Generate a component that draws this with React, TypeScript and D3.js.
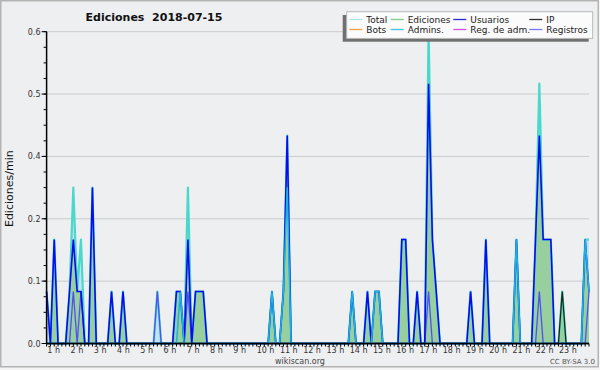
import React from 'react';
import * as d3 from 'd3';

// ---- data (10-minute bins, edits per minute) ----
const BIN_COUNT = 143;
const hourLabels = ['1 h','2 h','3 h','4 h','5 h','6 h','7 h','8 h','9 h','10 h','11 h','12 h','13 h','14 h','15 h','16 h','17 h','18 h','19 h','20 h','21 h','22 h','23 h'];
const yTicks = [0, 0.12, 0.24, 0.36, 0.48, 0.6];

const totalPts: [number, number][] = [[0,0.1],[2,0.2],[6,0.1],[7,0.3],[8,0.1],[9,0.2],[12,0.3],[17,0.1],[20,0.1],[29,0.1],[34,0.1],[35,0.1],[37,0.3],[39,0.1],[40,0.1],[41,0.1],[59,0.1],[62,0.1],[63,0.4],[80,0.1],[84,0.1],[86,0.1],[87,0.1],[93,0.2],[94,0.2],[97,0.1],[100,0.6],[101,0.2],[102,0.1],[111,0.1],[115,0.2],[123,0.2],[128,0.2],[129,0.5],[130,0.2],[131,0.2],[132,0.2],[135,0.1],[141,0.2],[142,0.2]];
const edicionesPts: [number, number][] = [[2,0.2],[6,0.1],[7,0.2],[8,0.1],[9,0.1],[12,0.3],[17,0.1],[20,0.1],[34,0.1],[35,0.1],[37,0.2],[39,0.1],[40,0.1],[41,0.1],[59,0.1],[62,0.1],[63,0.4],[80,0.1],[84,0.1],[86,0.1],[87,0.1],[93,0.2],[94,0.2],[97,0.1],[100,0.5],[101,0.2],[102,0.1],[111,0.1],[115,0.2],[123,0.2],[128,0.2],[129,0.4],[130,0.2],[131,0.2],[132,0.2],[135,0.1],[141,0.2],[142,0.1]];
const usuariosPts: [number, number][] = [[0,0.1],[2,0.2],[6,0.1],[7,0.2],[8,0.1],[9,0.1],[12,0.3],[17,0.1],[20,0.1],[34,0.1],[35,0.1],[37,0.2],[39,0.1],[40,0.1],[41,0.1],[59,0.1],[62,0.1],[63,0.4],[80,0.1],[84,0.1],[86,0.1],[87,0.1],[93,0.2],[94,0.2],[97,0.1],[100,0.5],[101,0.2],[102,0.1],[111,0.1],[115,0.2],[123,0.2],[128,0.2],[129,0.4],[130,0.2],[131,0.2],[132,0.2],[141,0.2],[142,0.1]];
const ipPts: [number, number][] = [[135,0.1]];
const adminsPts: [number, number][] = [[35,0.1],[59,0.1],[62,0.1],[63,0.3],[80,0.1],[86,0.1],[87,0.1],[123,0.2],[141,0.2],[142,0.1]];
const registrosPts: [number, number][] = [[7,0.1],[9,0.1],[29,0.1],[37,0.1],[100,0.1],[129,0.1],[142,0.1]];

const legendItems = [
  { name: 'Total', color: '#a8e6e6' },
  { name: 'Ediciones', color: '#88cc88' },
  { name: 'Usuarios', color: '#2a2ad8' },
  { name: 'IP', color: '#333333' },
  { name: 'Bots', color: '#f5a040' },
  { name: 'Admins.', color: '#40c4e0' },
  { name: 'Reg. de adm.', color: '#d050e0' },
  { name: 'Registros', color: '#7878f0' },
];

function dense(pts: [number, number][]): number[] {
  const a = new Array(BIN_COUNT).fill(0);
  pts.forEach(([i, v]) => { a[i] = v; });
  return a;
}

const W = 600, H = 370;
const M = { left: 46.6, right: 589, top: 31.7, bottom: 343.5 };
const FONT = '"DejaVu Sans", Verdana, sans-serif';

export default function App() {
  const x = d3.scaleLinear().domain([0, BIN_COUNT - 1]).range([M.left, M.right]);
  const y = d3.scaleLinear().domain([0, 0.6]).range([M.bottom, M.top]);
  const labelX = d3.scaleLinear().domain([1, 23]).range([47.3, 559]);

  const total = dense(totalPts), ed = dense(edicionesPts), us = dense(usuariosPts),
    ip = dense(ipPts), adm = dense(adminsPts), reg = dense(registrosPts);

  const line = d3.line<number>().x((_, i) => x(i)).y(d => y(d));
  const area = d3.area<number>().x((_, i) => x(i)).y0(y(0)).y1(d => y(d));
  const fmt = d3.format('.1f');
  const minorY = d3.range(0, 0.6001, 0.03);
  const xTicks = d3.range(0, BIN_COUNT);

  // legend geometry
  const lg = { x: 346.7, y: 11.7, w: 246, h: 26.7 };
  const colX = [349.3, 390.7, 453.3, 529.3];
  const rowY = [19.5, 29.5];

  return (
    <>
      <style>{'body{margin:0}'}</style>
      <svg width={W} height={H} style={{ display: 'block' }} fontFamily={FONT}>
        <rect x={0} y={0} width={W} height={H} fill="#f4f4f4" />
        <rect x={0.75} y={0.75} width={597.5} height={366} fill="#eeeff1" stroke="#b4b4b4" strokeWidth={1.5} />
        <text x={154} y={20.5} textAnchor="middle" fontWeight="bold" fontSize={11} fill="#111" style={{ whiteSpace: 'pre' }}>{'Ediciones  2018-07-15'}</text>

        {/* grid */}
        {yTicks.filter(t => t > 0).map(t => (
          <line key={'g' + t} x1={M.left} x2={M.right} y1={y(t)} y2={y(t)} stroke="#cbcbcb" strokeWidth={1} />
        ))}

        {/* series */}
        <path d={area(total) || ''} fill="#c4e0f2" />
        <path d={area(ed) || ''} fill="#97cf9f" />
        <path d={line(total) || ''} fill="none" stroke="#48d8cc" strokeWidth={2.2} strokeLinejoin="round" />
        <path d={line(reg) || ''} fill="none" stroke="#5050f2" strokeWidth={1.3} />
        <path d={line(us) || ''} fill="none" stroke="#0a0aee" strokeWidth={1.6} />
        <path d={line(ip) || ''} fill="none" stroke="#1a2a1a" strokeWidth={1.3} />
        <path d={line(adm) || ''} fill="none" stroke="#22b0dc" strokeWidth={1.5} />

        {/* y axis */}
        <line x1={M.left} x2={M.left} y1={M.top} y2={M.bottom} stroke="#000" strokeWidth={1.5} />
        {minorY.map(t => (
          <line key={'my' + t} x1={M.left - 3} x2={M.left} y1={y(t)} y2={y(t)} stroke="#000" strokeWidth={1} />
        ))}
        {yTicks.map(t => (
          <g key={'yt' + t}>
            <line x1={M.left - 5} x2={M.left} y1={y(t)} y2={y(t)} stroke="#000" strokeWidth={1} />
            <text x={40.5} y={y(t) + 3} textAnchor="end" fontSize={8} fill="#333">{fmt(t)}</text>
          </g>
        ))}
        <text transform={`translate(13,188.7) rotate(-90)`} textAnchor="middle" fontSize={11} fill="#111">Ediciones/min</text>

        {/* x axis */}
        <line x1={M.left} x2={M.right} y1={M.bottom} y2={M.bottom} stroke="#000" strokeWidth={1.5} />
        {xTicks.map(i => (
          <line key={'xt' + i} x1={x(i)} x2={x(i)} y1={M.bottom} y2={M.bottom + 3} stroke="#000" strokeWidth={1} />
        ))}
        {hourLabels.map((l, k) => (
          <text key={l} x={labelX(k + 1)} y={353} fontSize={8} fill="#333">{l}</text>
        ))}
        <text x={300} y={364} textAnchor="middle" fontSize={8} fill="#444">wikiscan.org</text>
        <text x={595} y={364} textAnchor="end" fontSize={7} fill="#555">CC BY-SA 3.0</text>

        {/* legend */}
        <rect x={lg.x - 4} y={lg.y + 3.3} width={lg.w} height={lg.h} fill="#707070" />
        <rect x={lg.x} y={lg.y} width={lg.w} height={lg.h} fill="#fbfbfb" stroke="#b8b8b8" strokeWidth={1} />
        {legendItems.map((it, idx) => {
          const c = idx % 4, r = Math.floor(idx / 4);
          return (
            <g key={it.name}>
              <line x1={colX[c]} x2={colX[c] + 13} y1={rowY[r]} y2={rowY[r]} stroke={it.color} strokeWidth={1.3} />
              <text x={colX[c] + 17} y={rowY[r] + 3.3} fontSize={9} fill="#222">{it.name}</text>
            </g>
          );
        })}
      </svg>
    </>
  );
}
